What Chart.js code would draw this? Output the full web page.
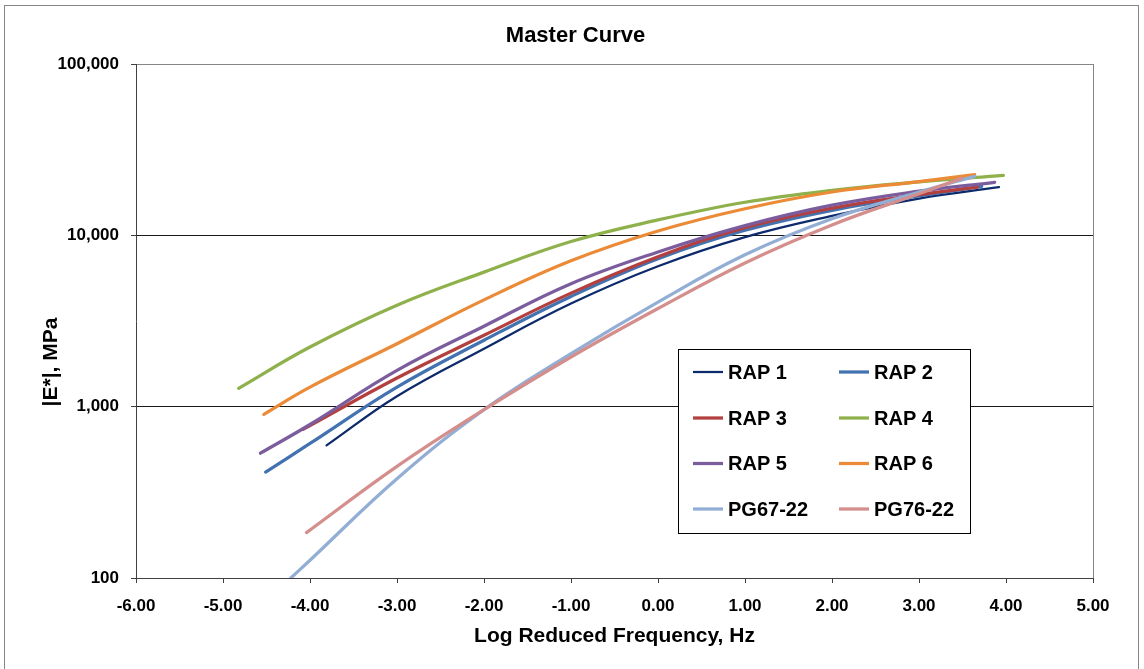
<!DOCTYPE html>
<html>
<head>
<meta charset="utf-8">
<script src="https://cdn.jsdelivr.net/npm/chart.js@4.4.1/dist/chart.umd.min.js"></script>
<style>
    html, body { margin: 0; padding: 0; background: #fff; }
    #chart { display: block; }
</style>
</head>
<body>
<canvas id="chart" width="1144" height="669"></canvas>
<script>
// series (log reduced frequency, |E*| in MPa)
const names = ["RAP 1", "RAP 2", "RAP 3", "RAP 4", "RAP 5", "RAP 6", "PG67-22", "PG76-22"];
const colors = ["#0d2a6c", "#4372b0", "#b3403e", "#8fb14c", "#7b5d9e", "#eb8a37", "#93aed5", "#d48e8c"];
const widths = [2.25, 3.25, 3.25, 3.25, 3.25, 3.25, 3.25, 3.25];

const rap1Freq = [-3.81, -3, -2, -1, 0, 1, 2, 3, 3.92];
const rap1Mod = [594, 1150, 2180, 4000, 6600, 9770, 13000, 16400, 19100];
const rap2Freq = [-4.51, -4, -3, -2, -1, 0, 1, 2, 3, 3.72];
const rap2Mod = [415, 610, 1300, 2440, 4400, 7300, 10700, 14000, 17000, 19300];
const rap3Freq = [-4.08, -3, -2, -1, 0, 1, 2, 3, 3.67];
const rap3Mod = [737, 1470, 2610, 4600, 7500, 11100, 14400, 17300, 19100];
const rap4Freq = [-4.82, -4, -3, -2, -1, 0, 1, 2, 3, 3.97];
const rap4Mod = [1280, 2230, 3910, 6100, 9200, 12300, 15600, 18300, 20500, 22400];
const rap5Freq = [-4.57, -4, -3, -2, -1, 0, 1, 2, 3, 3.87];
const rap5Mod = [535, 787, 1630, 2950, 5220, 8000, 11400, 15000, 18100, 20400];
const rap6Freq = [-4.53, -4, -3, -2, -1, 0, 1, 2, 3, 3.64];
const rap6Mod = [902, 1300, 2330, 4200, 7100, 10600, 14300, 17900, 20600, 22600];
const pg67Freq = [-4.22, -4, -3, -2, -1, 0, 1, 2, 3, 3.64];
const pg67Mod = [100, 127, 380, 960, 2040, 4080, 7700, 12500, 17900, 22100];
const pg76Freq = [-4.04, -3, -2, -1, 0, 1, 2, 3, 3.49];
const pg76Mod = [184, 448, 960, 1950, 3740, 6900, 11500, 17500, 21500];

const freqs = [rap1Freq, rap2Freq, rap3Freq, rap4Freq, rap5Freq, rap6Freq, pg67Freq, pg76Freq];
const mods = [rap1Mod, rap2Mod, rap3Mod, rap4Mod, rap5Mod, rap6Mod, pg67Mod, pg76Mod];

const yTicks = [100, 1000, 10000, 100000];
const xMin = -6, xMax = 5;

const FONT = 'Arial, "Liberation Sans", sans-serif';
Chart.defaults.font.family = FONT;
Chart.defaults.font.weight = "bold";
Chart.defaults.color = "#000";

const frame = {
    id: "frame",
    beforeDraw(chart) {
        const ctx = chart.ctx;
        ctx.save();
        ctx.fillStyle = "#fff";
        ctx.fillRect(0, 0, chart.width, chart.height);
        ctx.strokeStyle = "#868686";
        ctx.lineWidth = 1;
        ctx.strokeRect(4.5, 5.5, 1134, 700);
        ctx.restore();
    },
    afterDraw(chart) {
        // y title sits lower than the axis centre, as in the original
        const ctx = chart.ctx;
        ctx.save();
        ctx.translate(51, 362);
        ctx.rotate(-Math.PI / 2);
        ctx.font = "bold 21px " + FONT;
        ctx.fillStyle = "#000";
        ctx.textAlign = "center";
        ctx.textBaseline = "middle";
        ctx.fillText("|E*|, MPa", 0, 0);
        ctx.restore();
    }
};

const boxLegend = {
    id: "boxLegend",
    afterDatasetsDraw(chart) {
        const ctx = chart.ctx,
            cols = [693, 839],
            rows = [372, 418, 463.5, 509];
        ctx.save();
        ctx.fillStyle = "#fff";
        ctx.fillRect(678.5, 349.5, 292, 184);
        ctx.strokeStyle = "#000";
        ctx.lineWidth = 1;
        ctx.strokeRect(678.5, 349.5, 292, 184);
        ctx.font = "bold 20px " + FONT;
        ctx.textBaseline = "middle";
        chart.data.datasets.forEach((ds, i) => {
            const x = cols[i % 2], y = rows[Math.floor(i / 2)];
            ctx.strokeStyle = ds.borderColor;
            ctx.lineWidth = ds.borderWidth;
            ctx.beginPath();
            ctx.moveTo(x, y);
            ctx.lineTo(x + 30, y);
            ctx.stroke();
            ctx.fillStyle = "#000";
            ctx.fillText(ds.label, x + 35, y + 1);
        });
        ctx.restore();
    }
};

new Chart(document.getElementById("chart"), {
    type: "scatter",
    data: {
        datasets: names.map((name, i) => ({
            label: name,
            data: freqs[i].map((f, j) => ({ x: f, y: mods[i][j] })),
            showLine: true,
            borderColor: colors[i],
            backgroundColor: colors[i],
            borderWidth: widths[i],
            borderCapStyle: "round",
            borderJoinStyle: "round",
            tension: 0.4,
            pointRadius: 0,
            pointHoverRadius: 0,
            order: names.length - i,
        }))
    },
    options: {
        responsive: false,
        animation: false,
        events: [],
        layout: { padding: { left: 58, right: 51, top: 0, bottom: 0 } },
        plugins: {
            legend: { display: false },
            tooltip: { enabled: false },
            title: {
                display: true,
                text: "Master Curve",
                color: "#000",
                font: { size: 22, weight: "bold", lineHeight: 1 },
                padding: { top: 25, bottom: 17 }
            }
        },
        scales: {
            x: {
                type: "linear",
                min: xMin,
                max: xMax,
                afterFit: s => { s.height = 91; },
                ticks: {
                    stepSize: 1,
                    autoSkip: false,
                    maxRotation: 0,
                    padding: 13,
                    font: { size: 17, weight: "bold" },
                    callback: v => v.toFixed(2)
                },
                grid: {
                    color: c => c.index === xMax - xMin ? "#868686" : "rgba(0,0,0,0)",
                    tickColor: "#404040",
                    tickLength: 5,
                    lineWidth: 1
                },
                border: { color: "#404040", width: 1 },
                title: {
                    display: true,
                    text: "Log Reduced Frequency, Hz",
                    color: "#000",
                    font: { size: 21, weight: "bold" },
                    padding: { top: 0, bottom: 20 }
                }
            },
            y: {
                type: "logarithmic",
                min: yTicks[0],
                max: yTicks[yTicks.length - 1],
                afterFit: s => { s.width = 78; },
                afterBuildTicks: s => { s.ticks = yTicks.map(v => ({ value: v })); },
                ticks: {
                    padding: 12,
                    font: { size: 17, weight: "bold" },
                    callback: v => Number(v).toLocaleString("en-US")
                },
                grid: {
                    color: c => c.tick && c.tick.value === 100000 ? "#868686" : "#1a1a1a",
                    tickColor: "#404040",
                    tickLength: 5,
                    lineWidth: 1
                },
                border: { color: "#404040", width: 1 }
            }
        }
    },
    plugins: [frame, boxLegend]
});
</script>
</body>
</html>
